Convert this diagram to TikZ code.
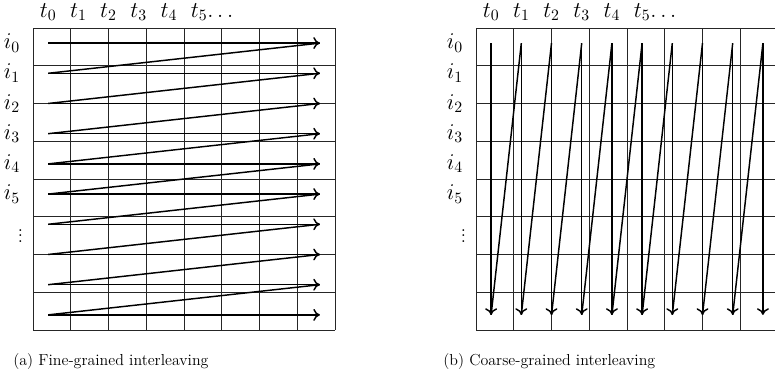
\documentclass[tikz,border=0pt]{standalone}
\usepackage{fix-cm}
\usepackage{tikz}
\usetikzlibrary{arrows.meta}

\begin{document}
\begin{tikzpicture}[
    x=0.8cm, y=0.8cm,
    cell/.style={draw=black!85, line width=0.55pt},
    arr/.style={-{Computer Modern Rightarrow[length=5pt, width=9pt]}, line width=1.1pt},
    back/.style={line width=1.1pt},
    lab/.style={inner sep=0pt, font=\fontsize{17}{20}\selectfont},
    subcap/.style={inner sep=0pt, anchor=base west, font=\fontsize{12}{14}\selectfont},
  ]
    \useasboundingbox (-1.093,0.927) rectangle (24.57,-11.556);
    % (a) fine-grained
    \draw[cell] (0,0) grid (10,-10);
    \foreach \r in {0,...,9} {
      \coordinate (a-s\r) at (0.5,-\r-0.5);
      \coordinate (a-e\r) at (9.5,-\r-0.5);
    }
    \foreach \r in {0,...,9}
      \draw[arr] (a-s\r) -- (a-e\r);
    \foreach \r [evaluate=\r as \n using int(\r+1)] in {0,...,8}
      \draw[back] (a-e\r) -- (a-s\n);
    \foreach \c in {0,...,4}
      \node[lab] (a-t\c) at (\c+0.5,0.53) {$t_{\c}$};
    \node[lab] (a-t5) at (5.5,0.53) {$t_5$\rlap{$\ldots$}};
    \foreach \r in {0,...,5}
      \node[lab] (a-i\r) at (-0.7,-\r-0.5) {$i_{\r}$};
    \node[lab] (a-idots) at (-0.42,-6.75) {$\vdots$};
    \node[subcap] (a-cap) at (-0.66,-11.16) {(a) Fine-grained interleaving};
    % (b) coarse-grained
    \begin{scope}[xshift=14.67*0.8cm]
      \draw[cell] (0,0) grid (10,-10);
      \foreach \c in {0,...,9} {
        \coordinate (b-s\c) at (\c+0.5,-0.5);
        \coordinate (b-e\c) at (\c+0.5,-9.5);
      }
      \foreach \c in {0,...,9}
        \draw[arr] (b-s\c) -- (b-e\c);
      \foreach \c [evaluate=\c as \n using int(\c+1)] in {0,...,8}
        \draw[back] (b-e\c) -- (b-s\n);
      \foreach \c in {0,...,4}
        \node[lab] (b-t\c) at (\c+0.5,0.53) {$t_{\c}$};
      \node[lab] (b-t5) at (5.5,0.53) {$t_5$\rlap{$\ldots$}};
      \foreach \r in {0,...,5}
        \node[lab] (b-i\r) at (-0.7,-\r-0.5) {$i_{\r}$};
      \node[lab] (b-idots) at (-0.42,-6.75) {$\vdots$};
      \node[subcap] (b-cap) at (-1.09,-11.16) {(b) Coarse-grained interleaving};
    \end{scope}
\end{tikzpicture}
\end{document}
